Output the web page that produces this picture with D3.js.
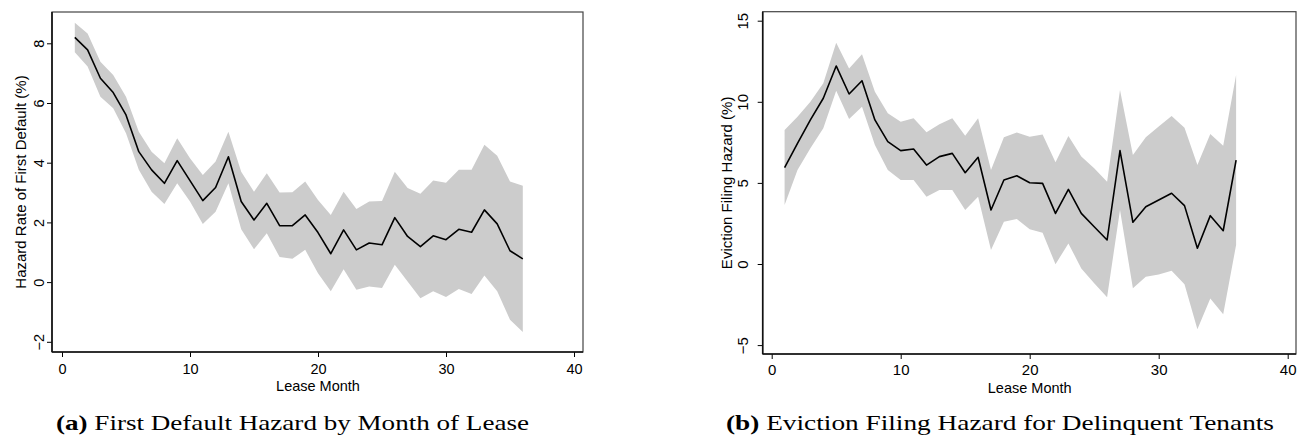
<!DOCTYPE html>
<html>
<head>
<meta charset="utf-8">
<script src="https://cdn.jsdelivr.net/npm/d3@7"></script>
<style>
  body { margin: 0; background: #fff; }
  svg { display: block; font-family: 'Liberation Sans', Arial, sans-serif; }
  .caption { font-family: 'Liberation Serif', 'Times New Roman', serif; }
</style>
</head>
<body>
<svg width="1297" height="435"></svg>
<script>
// lease months shared by both panels
let months = [1, 2, 3, 4, 5, 6, 7, 8, 9, 10, 11, 12, 13, 14, 15, 16, 17, 18,
              19, 20, 21, 22, 23, 24, 25, 26, 27, 28, 29, 30, 31, 32, 33, 34, 35, 36]
let xTicks = [0, 10, 20, 30, 40]

// (a) first default hazard, percent, with confidence band
let defaultRate = [8.20, 7.78, 6.83, 6.35, 5.60, 4.37, 3.76, 3.31, 4.07, 3.40, 2.73, 3.17,
                   4.20, 2.70, 2.08, 2.64, 1.89, 1.89, 2.25, 1.66, 0.95, 1.75, 1.08, 1.31,
                   1.25, 2.16, 1.53, 1.19, 1.55, 1.42, 1.77, 1.67, 2.42, 1.95, 1.05, 0.78]
let defaultHi = [8.69, 8.33, 7.38, 6.94, 6.21, 5.04, 4.37, 3.98, 4.82, 4.15, 3.59, 4.04,
                 5.04, 3.70, 3.03, 3.65, 3.00, 3.01, 3.37, 2.75, 2.25, 3.03, 2.45, 2.70,
                 2.72, 3.70, 3.15, 2.96, 3.40, 3.33, 3.76, 3.76, 4.60, 4.23, 3.37, 3.23]
let defaultLo = [7.70, 7.22, 6.21, 5.82, 4.99, 3.76, 3.03, 2.62, 3.31, 2.70, 1.95, 2.36,
                 3.31, 1.77, 1.10, 1.64, 0.84, 0.78, 1.08, 0.30, -0.31, 0.43, -0.26, -0.15,
                 -0.20, 0.58, 0.02, -0.54, -0.31, -0.50, -0.23, -0.40, 0.22, -0.31, -1.26, -1.67]
let defaultTicks = [-2, 0, 2, 4, 6, 8]

// (b) eviction filing hazard, percent, with confidence band
let evictionRate = [5.94, 7.44, 8.88, 10.22, 12.21, 10.48, 11.30, 8.88, 7.54, 6.99, 7.09, 6.10,
                    6.62, 6.82, 5.63, 6.58, 3.33, 5.18, 5.44, 5.01, 4.97, 3.12, 4.60, 3.12,
                    2.30, 1.48, 6.99, 2.57, 3.53, 3.95, 4.36, 3.60, 0.97, 2.98, 2.05, 6.41]
let evictionHi = [8.26, 9.08, 10.00, 11.14, 13.64, 12.06, 12.93, 10.62, 9.29, 8.77, 8.98, 8.12,
                  8.61, 8.98, 7.91, 8.98, 5.80, 7.81, 8.10, 7.85, 7.99, 6.27, 7.89, 6.62,
                  5.90, 5.07, 10.73, 6.72, 7.81, 8.47, 9.12, 8.40, 6.10, 8.01, 7.29, 11.65]
let evictionLo = [3.64, 5.80, 7.13, 8.37, 10.68, 8.94, 9.70, 7.34, 5.80, 5.18, 5.18, 4.15,
                  4.56, 4.56, 3.33, 4.15, 0.86, 2.61, 2.77, 2.14, 1.93, -0.02, 1.27, -0.27,
                  -1.19, -2.05, 3.33, -1.50, -0.78, -0.64, -0.41, -1.25, -4.03, -2.12, -3.10, 1.17]
let evictionTicks = [-5, 0, 5, 10, 15]

let svg = d3.select('svg')

let panels = [
  {
    rate: defaultRate, lo: defaultLo, hi: defaultHi, yTicks: defaultTicks,
    yDomain: [-2, 8], yRange: [341.8, 43.3], xRange: [62, 574],
    left: 52, top: 12, right: 583, bottom: 352,
    fontSize: 14.5, tickPad: 7, yLabelX: 39, titleX: 21,
    yTitle: 'Hazard Rate of First Default (%)',
    tag: '(a)', caption: ' First Default Hazard by Month of Lease', capX: 56, capW: 473
  },
  {
    rate: evictionRate, lo: evictionLo, hi: evictionHi, yTicks: evictionTicks,
    yDomain: [-5, 15], yRange: [345.1, 20.7], xRange: [771.7, 1287.7],
    left: 762.7, top: 11.7, right: 1296, bottom: 354,
    fontSize: 15, tickPad: 5, yLabelX: 743, titleX: 727,
    yTitle: 'Eviction Filing Hazard (%)',
    tag: '(b)', caption: ' Eviction Filing Hazard for Delinquent Tenants', capX: 726, capW: 548
  }
]

panels.forEach(drawPanel)

function drawPanel (p) {
  let x = d3.scaleLinear().domain([0, 40]).range(p.xRange)
  let y = d3.scaleLinear().domain(p.yDomain).range(p.yRange)
  let rows = months.map((m, i) => ({ m: m, v: p.rate[i], lo: p.lo[i], hi: p.hi[i] }))
  let g = svg.append('g')

  // plot region border
  g.append('rect')
      .attr('x', p.left)
      .attr('y', p.top)
      .attr('width', p.right - p.left)
      .attr('height', p.bottom - p.top)
      .attr('fill', 'none')
      .attr('stroke', '#444')
      .attr('stroke-width', 1.2)

  g.append('path')
    .datum(rows)
      .attr('fill', '#cccccc')
      .attr('d', d3.area()
        .x(d => x(d.m))
        .y0(d => y(d.lo))
        .y1(d => y(d.hi)))

  g.append('path')
    .datum(rows)
      .attr('fill', 'none')
      .attr('stroke', '#000')
      .attr('stroke-width', 1.6)
      .attr('stroke-linejoin', 'round')
      .attr('d', d3.line()
        .x(d => x(d.m))
        .y(d => y(d.v)))

  // axes: stata draws the axis line over the whole plot region
  let xAxis = d3.axisBottom(x)
                .tickValues(xTicks)
                .tickSize(5)
                .tickSizeOuter(0)
                .tickPadding(p.tickPad)

  let gx = g.append('g')
      .attr('transform', `translate(0, ${p.bottom})`)
      .call(xAxis)
  gx.select('.domain').remove()
  gx.selectAll('text')
      .style('font-size', p.fontSize + 'px')
      .attr('fill', '#000')

  let yAxis = d3.axisLeft(y)
                .tickValues(p.yTicks)
                .tickSize(5)
                .tickSizeOuter(0)

  let gy = g.append('g')
      .attr('transform', `translate(${p.left}, 0)`)
      .call(yAxis)
  gy.select('.domain').remove()
  gy.selectAll('text')
      .attr('transform', 'rotate(-90)')
      .attr('x', 0)
      .attr('y', p.yLabelX - p.left)
      .attr('dy', '0.36em')
      .style('text-anchor', 'middle')
      .style('font-size', p.fontSize + 'px')
      .attr('fill', '#000')

  g.append('line')
      .attr('x1', p.left).attr('x2', p.left)
      .attr('y1', p.top).attr('y2', p.bottom)
      .attr('stroke', '#111')
      .attr('stroke-width', 1.6)

  g.append('line')
      .attr('x1', p.left).attr('x2', p.right)
      .attr('y1', p.bottom).attr('y2', p.bottom)
      .attr('stroke', '#111')
      .attr('stroke-width', 1.6)

  g.append('text')
      .attr('x', x(20))
      .attr('y', p.bottom + 39)
      .style('text-anchor', 'middle')
      .style('font-size', '14.5px')
      .text('Lease Month')

  g.append('text')
      .attr('transform', 'rotate(-90)')
      .attr('x', -(p.top + p.bottom) / 2)
      .attr('y', p.titleX)
      .attr('dy', '0.36em')
      .style('text-anchor', 'middle')
      .style('font-size', '15px')
      .text(p.yTitle)

  let cap = g.append('text')
      .classed('caption', true)
      .attr('x', p.capX)
      .attr('y', 430)
      .attr('textLength', p.capW)
      .attr('lengthAdjust', 'spacingAndGlyphs')
      .style('font-size', '22px')
  cap.append('tspan')
      .style('font-weight', 'bold')
      .text(p.tag)
  cap.append('tspan')
      .text(p.caption)
}
</script>
</body>
</html>
